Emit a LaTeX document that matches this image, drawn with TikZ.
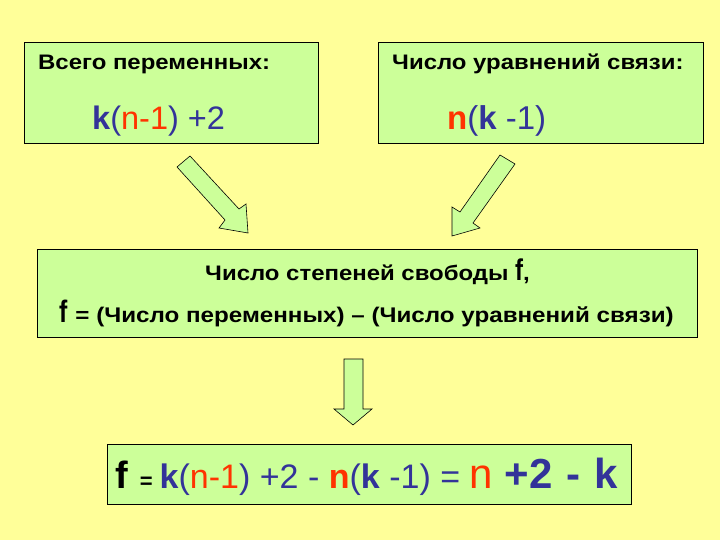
\documentclass[tikz,border=0pt]{standalone}
\usepackage{fontspec}
\setmainfont{Liberation Sans}
\newfontfamily\widefont[FakeStretch=1.14]{Liberation Sans}
\newfontfamily\narrowfont[FakeStretch=0.8]{Liberation Sans}
\definecolor{slidebg}{HTML}{FFFF99}
\definecolor{boxgreen}{HTML}{CCFF99}
\definecolor{fred}{HTML}{FF3300}
\definecolor{fblue}{HTML}{333399}
\tikzset{
  box/.style={draw=black, fill=boxgreen, line width=0.8pt, inner sep=0pt, anchor=north west},
  blockarrow/.style={draw=black, fill=boxgreen, line width=0.6pt, line join=miter},
  txt/.style={inner sep=0pt, anchor=base west},
}
\begin{document}
\begin{tikzpicture}[x=1pt,y=-1pt]
  %Slide background
  \fill[slidebg] (0,0) rectangle (720,540);
  \useasboundingbox (0,0) rectangle (720,540);
  %Upper boxes
  \node[box, minimum width=294pt, minimum height=101pt] (vars) at (24,42) {};
  \node[box, minimum width=325pt, minimum height=101pt] (eqs) at (378,42) {};
  \node[txt] (varstitle) at (38,70) {\widefont\fontsize{21}{24}\selectfont\bfseries Всего переменных:};
  \node[txt] (varsnum) at (92,130) {\fontsize{32.5}{36}\selectfont\color{fblue}\textbf{k}(\textcolor{fred}{n-1}) +2};
  \node[txt] (eqstitle) at (392,70) {\widefont\fontsize{21}{24}\selectfont\bfseries Число уравнений связи:};
  \node[txt] (eqsnum) at (447,130) {\fontsize{33}{36}\selectfont\color{fblue}\textcolor{fred}{\textbf{n}}(\textbf{k} -1)};
  %Block arrows into the middle box
  \filldraw[blockarrow] (177,167) -- (190,156) -- (239,209) -- (246,204) -- (248,233) -- (219,228) -- (225,220) -- cycle;
  \filldraw[blockarrow] (515,164) -- (473,223) -- (480,228) -- (452,236) -- (452,207) -- (460,212) -- (500,155) -- cycle;
  %Degrees of freedom
  \node[box, minimum width=660pt, minimum height=88pt] (dof) at (37,249) {};
  \node[txt] (doftitle) at (205,280) {\widefont\fontsize{21}{24}\selectfont\bfseries Число степеней свободы {\narrowfont\fontsize{30}{30}\selectfont f},};
  \node[txt] (dofdef) at (59,322) {{\narrowfont\bfseries\fontsize{31}{32}\selectfont f}\hspace{8pt}\widefont\fontsize{21.2}{24}\selectfont\bfseries = (Число переменных) – (Число уравнений связи)};
  %Down arrow
  \filldraw[blockarrow] (344,359) -- (363,359) -- (363,409) -- (372,409) -- (353,425) -- (334,409) -- (344,409) -- cycle;
  %Result
  \node[box, minimum width=524pt, minimum height=60pt] (result) at (107,444) {};
  \node[txt] (resulttext) at (115,488) {{\fontsize{38}{40}\selectfont\bfseries f}\hspace{12pt}%
    {\fontsize{22}{24}\selectfont\bfseries =}\hspace{7pt}%
    {\fontsize{34}{36}\selectfont\color{fblue}\textbf{k}(\textcolor{fred}{n-1}) +2 - \textcolor{fred}{\textbf{n}}(\textbf{k} -1) =}\hspace{9pt}%
    {\fontsize{42}{44}\selectfont\color{fred}n}\hspace{12pt}%
    {\fontsize{42}{44}\selectfont\bfseries\color{fblue}+2\hspace{14pt}-\hspace{14pt}k}};
\end{tikzpicture}
\end{document}
